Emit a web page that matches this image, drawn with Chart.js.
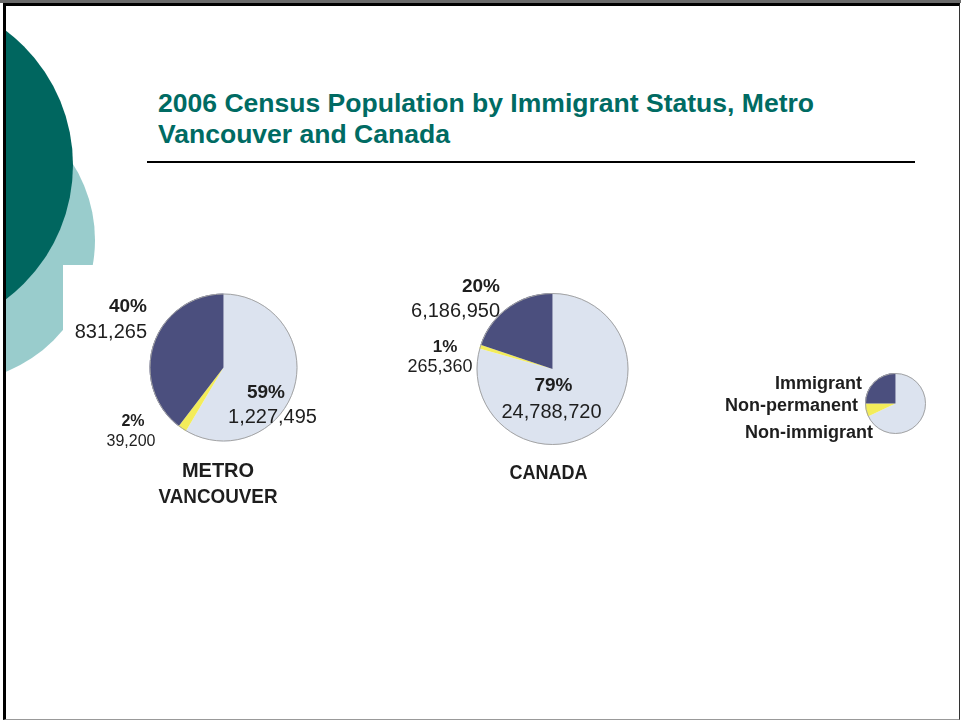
<!DOCTYPE html>
<html>
<head>
<meta charset="utf-8">
<title>2006 Census Population by Immigrant Status</title>
<script src="https://cdn.jsdelivr.net/npm/chart.js@4.4.0/dist/chart.umd.min.js"></script>
<style>
html, body { margin: 0; padding: 0; background: #fff; }
#slide { position: relative; width: 961px; height: 721px; overflow: hidden; background: #fff; font-family: "Liberation Sans", Arial, sans-serif; }
#deco { position: absolute; left: 6px; top: 6px; width: 953px; height: 713px; overflow: hidden; }
.disc { position: absolute; border-radius: 50%; }
#lightDisc { left: -195px; top: 92px; width: 284px; height: 284px; background: #99cccc; }
#notch { position: absolute; left: 57px; top: 259px; width: 120px; height: 200px; background: #fff; }
#darkDisc { left: -269px; top: -9px; width: 336px; height: 336px; background: #00665f; }
#frame { position: absolute; left: 3px; top: 3px; width: 957px; height: 717px; box-sizing: border-box;
  border-left: 3px solid #000; border-top: 3px solid #000; border-right: 1px solid #333; border-bottom: 1px solid #999; }
#topband { position: absolute; left: 0; top: 0; width: 961px; height: 3px; background: #6a6a6a; }
#title { position: absolute; left: 158px; top: 88px; color: #006b63; font-weight: bold; font-size: 25px;
  line-height: 31px; white-space: nowrap; transform-origin: left top; }
#rule { position: absolute; left: 147px; top: 161px; width: 768px; height: 2px; background: #000; }
canvas { position: absolute; left: 0; top: 0; }
</style>
</head>
<body>
<div id="slide">
  <div id="deco">
    <div class="disc" id="lightDisc"></div>
    <div id="notch"></div>
    <div class="disc" id="darkDisc"></div>
  </div>
  <div id="topband"></div>
  <div id="frame"></div>
  <div id="title"></div>
  <div id="rule"></div>
  <canvas id="vancouver" width="961" height="721"></canvas>
  <canvas id="canada" width="961" height="721"></canvas>
  <canvas id="key" width="961" height="721"></canvas>
</div>
<script>
// slices go clockwise from 12 o'clock in this order
const categories = ['Non-immigrant', 'Non-permanent', 'Immigrant'];
const vancouverValues = [1227495, 39200, 831265];
const canadaValues = [24788720, 265360, 6186950];
// small key pie, only the proportions matter
const keyValues = [68, 7, 25];
const vancouverCaption = ['METRO', 'VANCOUVER'];
const canadaCaption = ['CANADA'];
const titleLines = ['2006 Census Population by Immigrant Status, Metro', 'Vancouver and Canada'];

const sliceColors = ['#dce3ef', '#f3ec5a', '#4b4f7e'];
const W = 961, H = 721;

// title, squeezed to the width of the slide heading
const titleEl = document.getElementById('title');
titleEl.innerHTML = titleLines.join('<br>');
const mctx = document.createElement('canvas').getContext('2d');
mctx.font = 'bold 25px "Liberation Sans", Arial, sans-serif';
const titleScale = 656 / mctx.measureText(titleLines[0]).width;
titleEl.style.transform = 'scaleX(' + titleScale + ')';

// grey rim round each pie
const pieOutline = {
  id: 'pieOutline',
  afterDatasetsDraw(chart) {
    const arc = chart.getDatasetMeta(0).data[0];
    const ctx = chart.ctx;
    ctx.save();
    ctx.strokeStyle = '#a4a4a4';
    ctx.lineWidth = 1;
    ctx.beginPath();
    ctx.arc(arc.x, arc.y, arc.outerRadius - 0.5, 0, Math.PI * 2);
    ctx.stroke();
    ctx.restore();
  }
};

function labelPlugin(items) {
  return {
    id: 'sliceLabels',
    afterDraw(chart) {
      const ctx = chart.ctx;
      const values = chart.data.datasets[0].data;
      const total = values.reduce((a, b) => a + b, 0);
      ctx.save();
      ctx.fillStyle = '#1e1e1e';
      ctx.textBaseline = 'alphabetic';
      items.forEach(it => {
        let text = it.text;
        if (it.kind === 'pct') text = Math.round(values[it.index] / total * 100) + '%';
        if (it.kind === 'value') text = values[it.index].toLocaleString('en-US');
        if (it.kind === 'name') text = chart.data.labels[it.index];
        ctx.font = it.font;
        ctx.textAlign = it.align || 'center';
        if (it.maxWidth) ctx.fillText(text, it.x, it.y, it.maxWidth);
        else ctx.fillText(text, it.x, it.y);
      });
      ctx.restore();
    }
  };
}

function makePie(id, values, cx, cy, r, items) {
  return new Chart(document.getElementById(id), {
    type: 'pie',
    data: {
      labels: categories,
      datasets: [{
        data: values,
        backgroundColor: sliceColors,
        borderWidth: 0,
        hoverOffset: 0
      }]
    },
    options: {
      responsive: false,
      animation: false,
      events: [],
      devicePixelRatio: 1,
      layout: { padding: { left: cx - r, top: cy - r, right: W - cx - r, bottom: H - cy - r } },
      plugins: { legend: { display: false }, tooltip: { enabled: false } }
    },
    plugins: [pieOutline, labelPlugin(items)]
  });
}

const B = '"Liberation Sans", Arial, sans-serif';

makePie('vancouver', vancouverValues, 223.5, 367.5, 74, [
  { kind: 'pct', index: 2, font: 'bold 19px ' + B, align: 'right', x: 147, y: 312 },
  { kind: 'value', index: 2, font: '20px ' + B, align: 'right', x: 147, y: 338 },
  { kind: 'pct', index: 1, font: 'bold 16px ' + B, x: 133, y: 426 },
  { kind: 'value', index: 1, font: '16px ' + B, x: 131, y: 446 },
  { kind: 'pct', index: 0, font: 'bold 19px ' + B, x: 266, y: 398 },
  { kind: 'value', index: 0, font: '20px ' + B, x: 272.5, y: 423 },
  { text: vancouverCaption[0], font: 'bold 20px ' + B, x: 218, y: 477, maxWidth: 74 },
  { text: vancouverCaption[1], font: 'bold 20px ' + B, x: 218, y: 503, maxWidth: 119 }
]);

makePie('canada', canadaValues, 552.5, 369, 76, [
  { kind: 'pct', index: 2, font: 'bold 19px ' + B, align: 'right', x: 500, y: 292 },
  { kind: 'value', index: 2, font: '20px ' + B, align: 'right', x: 500, y: 317 },
  { kind: 'pct', index: 1, font: 'bold 17px ' + B, x: 445, y: 352 },
  { kind: 'value', index: 1, font: '18px ' + B, x: 440, y: 372 },
  { kind: 'pct', index: 0, font: 'bold 19px ' + B, x: 553.5, y: 391 },
  { kind: 'value', index: 0, font: '20px ' + B, x: 551.5, y: 418 },
  { text: canadaCaption[0], font: 'bold 20px ' + B, x: 548.5, y: 479, maxWidth: 78 }
]);

makePie('key', keyValues, 895.5, 403.5, 30.5, [
  { kind: 'name', index: 2, font: 'bold 18px ' + B, align: 'right', x: 862, y: 389 },
  { kind: 'name', index: 1, font: 'bold 18px ' + B, align: 'right', x: 858, y: 411 },
  { kind: 'name', index: 0, font: 'bold 18px ' + B, align: 'right', x: 873, y: 438 }
]);
</script>
</body>
</html>
